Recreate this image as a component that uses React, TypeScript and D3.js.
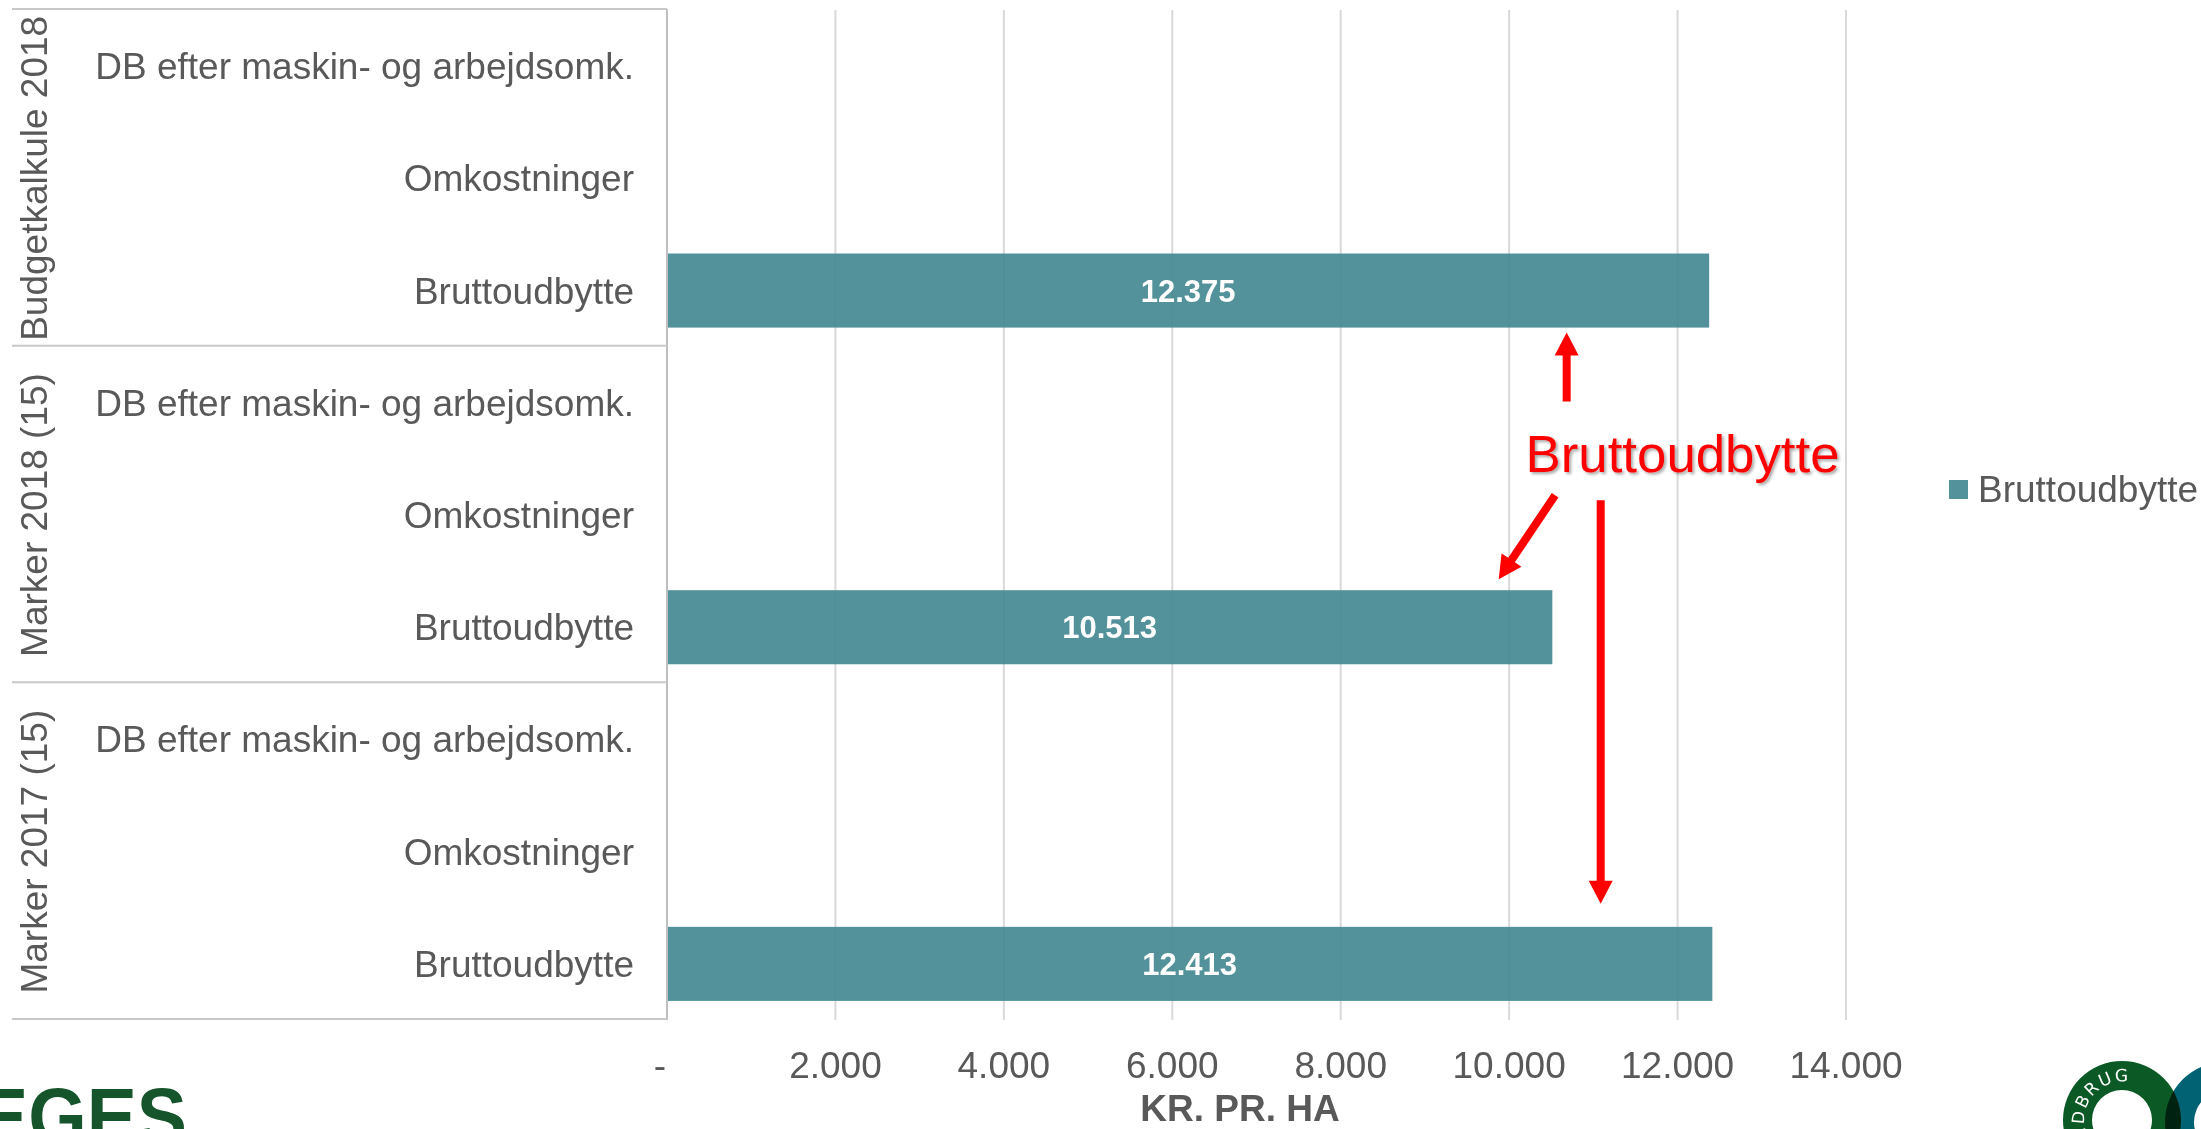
import React from "react";
import * as d3 from "d3";

// ---- data ----
const groups = ["Budgetkalkule 2018", "Marker 2018 (15)", "Marker 2017 (15)"];
const items = ["DB efter maskin- og arbejdsomk.", "Omkostninger", "Bruttoudbytte"];
const seriesName = "Bruttoudbytte";
const bruttoudbytte = [12375, 10513, 12413]; // one per group, on the "Bruttoudbytte" row
const xTicks = [0, 2000, 4000, 6000, 8000, 10000, 12000, 14000];
const xTitle = "KR. PR. HA";
const annotationText = "Bruttoudbytte";
const logoLeftText = "EGES";
const logoRightText = "LANDBRUG";

const W = 2201;
const H = 1129;
const FONT = "'Liberation Sans', Arial, Helvetica, sans-serif";
const GREY = "#595959";
const BAR = "rgb(64,134,143)";

const fmt = (v: number) => (v === 0 ? "-" : d3.format(",")(v).replace(/,/g, "."));

function arrowPath(x1: number, y1: number, x2: number, y2: number, shaft = 8, headW = 24, headL = 23) {
  const dx = x2 - x1, dy = y2 - y1;
  const len = Math.hypot(dx, dy);
  const ux = dx / len, uy = dy / len;
  const px = -uy, py = ux;
  const bx = x2 - ux * headL, by = y2 - uy * headL;
  const s = shaft / 2, h = headW / 2;
  const pts = [
    [x1 + px * s, y1 + py * s],
    [bx + px * s, by + py * s],
    [bx + px * h, by + py * h],
    [x2, y2],
    [bx - px * h, by - py * h],
    [bx - px * s, by - py * s],
    [x1 - px * s, y1 - py * s],
  ];
  return "M" + pts.map((p) => p.join(",")).join("L") + "Z";
}

export default function App() {
  const left = 667, right = 1846, top = 10, bottom = 1020;
  const x = d3.scaleLinear().domain([0, 14000]).range([left, right]);
  const rows = groups.flatMap((g) => items.map((it) => `${g}|${it}`));
  const y = d3.scaleBand<string>().domain(rows).range([top, bottom]).paddingInner(0.34).paddingOuter(0.17);
  const step = y.step();
  const bars = groups.map((g, i) => ({ key: `${g}|${seriesName}`, value: bruttoudbytte[i] }));

  const groupTop = (gi: number) => top + gi * 3 * step;
  const sepYs = [0, 1, 2, 3].map((i) => top + i * 3 * step - 1);

  // annotation anchors from the bars
  const b1 = bars[0], b2 = bars[1], b3 = bars[2];
  const b1Bottom = (y(b1.key) as number) + y.bandwidth();
  const b2Top = y(b2.key) as number;
  const b3Top = y(b3.key) as number;
  const arrows = [
    arrowPath(x(10683), b1Bottom + 74, x(10683), b1Bottom + 5),
    arrowPath(x(10546), b2Top - 95, x(9876), b2Top - 11),
    arrowPath(x(11087), b2Top - 90, x(11087), b3Top - 23),
  ];

  // right logo geometry
  const gC = { cx: 2122, cy: 1120 };
  const tC = { cx: 2225, cy: 1122 };
  const ringPath = (cx: number, cy: number, R: number, r: number) =>
    `M${cx - R},${cy}a${R},${R} 0 1,0 ${2 * R},0a${R},${R} 0 1,0 ${-2 * R},0Z` +
    `M${cx - r},${cy}a${r},${r} 0 1,1 ${2 * r},0a${r},${r} 0 1,1 ${-2 * r},0Z`;
  const tr = 39;
  const a0 = (100 * Math.PI) / 180, a1 = (282 * Math.PI) / 180;
  const arcD = `M${gC.cx + tr * Math.cos(a0)},${gC.cy + tr * Math.sin(a0)} A${tr},${tr} 0 0,1 ${gC.cx + tr * Math.cos(a1)},${gC.cy + tr * Math.sin(a1)}`;

  return (
    <svg
      width={W}
      height={H}
      viewBox={`0 0 ${W} ${H}`}
      style={{ position: "absolute", left: 0, top: 0, display: "block", background: "#fff" }}
      fontFamily={FONT}
    >
      <defs>
        <filter id="shadow" x="-10%" y="-30%" width="120%" height="160%">
          <feDropShadow dx="2" dy="2" stdDeviation="1.5" floodColor="#000" floodOpacity="0.35" />
        </filter>
        <path id="logoArc" d={arcD} />
      </defs>
      <rect x={0} y={0} width={W} height={H} fill="#fff" />

      {/* gridlines */}
      {xTicks.slice(1).map((t) => (
        <line key={t} x1={x(t)} x2={x(t)} y1={top} y2={bottom} stroke="#d9d9d9" strokeWidth={2} />
      ))}

      {/* bars */}
      {bars.map((b) => (
        <g key={b.key}>
          <rect x={x(0)} y={y(b.key)} width={x(b.value) - x(0)} height={y.bandwidth()} fill={BAR} fillOpacity={0.9} />
          <text
            x={(x(0) + x(b.value)) / 2}
            y={(y(b.key) as number) + y.bandwidth() / 2 + 11}
            textAnchor="middle"
            fontSize={31}
            fontWeight="bold"
            fill="#fff"
          >
            {fmt(b.value)}
          </text>
        </g>
      ))}

      {/* category axis */}
      <line x1={left} x2={left} y1={top - 1} y2={bottom} stroke="#bfbfbf" strokeWidth={2} />
      {sepYs.map((sy, i) => (
        <line key={i} x1={12} x2={left} y1={sy} y2={sy} stroke="#c8c8c8" strokeWidth={2} />
      ))}
      {rows.map((r) => (
        <text
          key={r}
          x={634}
          y={(y(r) as number) + y.bandwidth() / 2 + 13}
          textAnchor="end"
          fontSize={37}
          fill={GREY}
        >
          {r.split("|")[1]}
        </text>
      ))}
      {groups.map((g, gi) => {
        const cy = groupTop(gi) + (3 * step) / 2;
        return (
          <text key={g} transform={`translate(47,${cy}) rotate(-90)`} textAnchor="middle" fontSize={37} fill={GREY}>
            {g}
          </text>
        );
      })}

      {/* value axis */}
      {xTicks.map((t) => (
        <text key={t} x={x(t) + (t === 0 ? -7 : 0)} y={1078} textAnchor="middle" fontSize={37} fill={GREY}>
          {fmt(t)}
        </text>
      ))}
      <text x={1240} y={1121} textAnchor="middle" fontSize={37} fontWeight="bold" fill={GREY}>
        {xTitle}
      </text>

      {/* legend */}
      <rect x={1949} y={480} width={19} height={19} fill={BAR} fillOpacity={0.9} />
      <text x={1978} y={502} fontSize={37} fill={GREY}>
        {seriesName}
      </text>

      {/* annotation */}
      {arrows.map((d, i) => (
        <path key={i} d={d} fill="#ff0000" />
      ))}
      <text
        x={x(10195)}
        y={472}
        fontSize={52}
        fill="#ff0000"
        filter="url(#shadow)"
        textLength={314}
        lengthAdjust="spacingAndGlyphs"
      >
        {annotationText}
      </text>

      {/* left logo */}
      <text
        x={-22}
        y={1144}
        fontSize={80}
        fontWeight="bold"
        fill="#16552c"
        textLength={209}
        lengthAdjust="spacingAndGlyphs"
      >
        {logoLeftText}
      </text>

      {/* right logo */}
      <path d={ringPath(tC.cx, tC.cy, 60, 31)} fill="#006272" fillRule="evenodd" />
      <path d={ringPath(gC.cx, gC.cy, 59, 30)} fill="#0b5a26" fillRule="evenodd" style={{ mixBlendMode: "multiply" }} />
      <text fontSize={17} fill="#fff" letterSpacing={2} fontFamily="'DejaVu Sans', sans-serif">
        <textPath href="#logoArc" startOffset="100%" textAnchor="end">
          {logoRightText}
        </textPath>
      </text>
    </svg>
  );
}
